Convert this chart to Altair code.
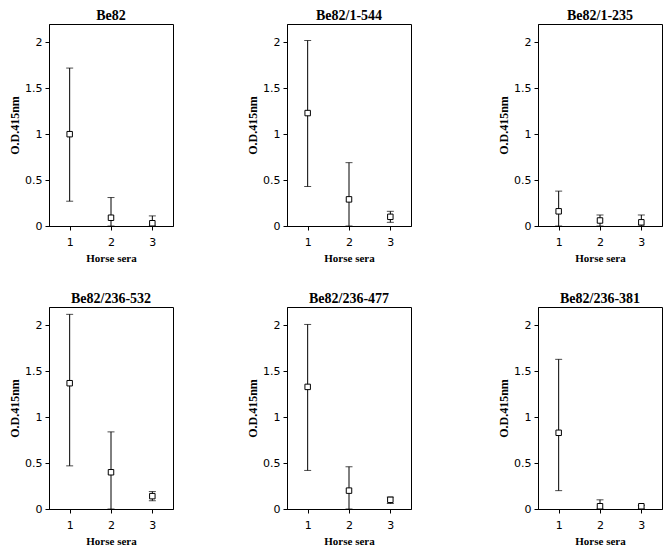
import altair as alt
import pandas as pd

panel_titles = ["Be82", "Be82/1-544", "Be82/1-235",
                "Be82/236-532", "Be82/236-477", "Be82/236-381"]
sera = [1, 2, 3]

mean_vals = [
    [1.00, 0.09, 0.03],
    [1.23, 0.29, 0.10],
    [0.16, 0.06, 0.04],
    [1.37, 0.40, 0.14],
    [1.33, 0.20, 0.10],
    [0.83, 0.03, 0.03],
]
upper_vals = [
    [1.72, 0.31, 0.11],
    [2.02, 0.69, 0.16],
    [0.38, 0.12, 0.12],
    [2.12, 0.84, 0.19],
    [2.01, 0.46, 0.13],
    [1.63, 0.10, 0.04],
]
lower_vals = [
    [0.27, 0.00, 0.00],
    [0.43, 0.00, 0.04],
    [0.00, 0.00, 0.00],
    [0.47, 0.00, 0.09],
    [0.42, 0.00, 0.06],
    [0.20, 0.00, 0.00],
]

W, H = 124, 202
SERIF = "Liberation Serif"
SANS = "DejaVu Sans"


def panel(i):
    df = pd.DataFrame({
        "sera": sera,
        "mean": mean_vals[i],
        "upper": upper_vals[i],
        "lower": lower_vals[i],
    })
    xenc = alt.X("sera:Q", scale=alt.Scale(domain=[0.5, 3.5], nice=False, zero=False),
                 axis=alt.Axis(values=[1, 2, 3], title="Horse sera", format="d",
                               labelPadding=6, titlePadding=5, grid=False))
    yscale = alt.Scale(domain=[0, 2.2], nice=False)
    yaxis = alt.Axis(values=[0, 0.5, 1, 1.5, 2], format="~g", title="O.D.415nm",
                     labelPadding=3, titlePadding=3, grid=False)
    base = alt.Chart(df).encode(x=xenc)
    rule = base.mark_rule(color="black", strokeWidth=1).encode(
        y=alt.Y("lower:Q", scale=yscale, axis=yaxis), y2="upper:Q")
    cap_hi = base.mark_tick(orient="horizontal", size=7, thickness=1, color="black").encode(
        y=alt.Y("upper:Q", scale=yscale))
    cap_lo = base.mark_tick(orient="horizontal", size=7, thickness=1, color="black").encode(
        y=alt.Y("lower:Q", scale=yscale))
    pts = base.mark_point(shape="square", size=30, filled=True, fill="white",
                          stroke="black", strokeWidth=1, opacity=1).encode(
        y=alt.Y("mean:Q", scale=yscale))
    return alt.layer(rule, cap_hi, cap_lo, pts).properties(
        width=W, height=H, title=panel_titles[i])


def row(a, b, c):
    return alt.hconcat(alt.hconcat(panel(a), panel(b), spacing=72), panel(c), spacing=85)


chart = alt.vconcat(row(0, 1, 2), row(3, 4, 5), spacing=27).properties(
    padding=0
).configure(
    background="white"
).configure_view(
    stroke="black", strokeWidth=1
).configure_axis(
    grid=False, domainColor="black", tickColor="black", tickSize=4,
    labelFont=SANS, labelFontSize=11, labelColor="black",
    titleFont=SERIF, titleFontWeight="bold", titleColor="black",
).configure_axisX(titleFontSize=11).configure_axisY(titleFontSize=12).configure_title(
    font=SERIF, fontSize=14, fontWeight="bold", color="black", anchor="middle", offset=1
)

chart.save("out.html", embed_options={"renderer": "svg", "actions": False})
